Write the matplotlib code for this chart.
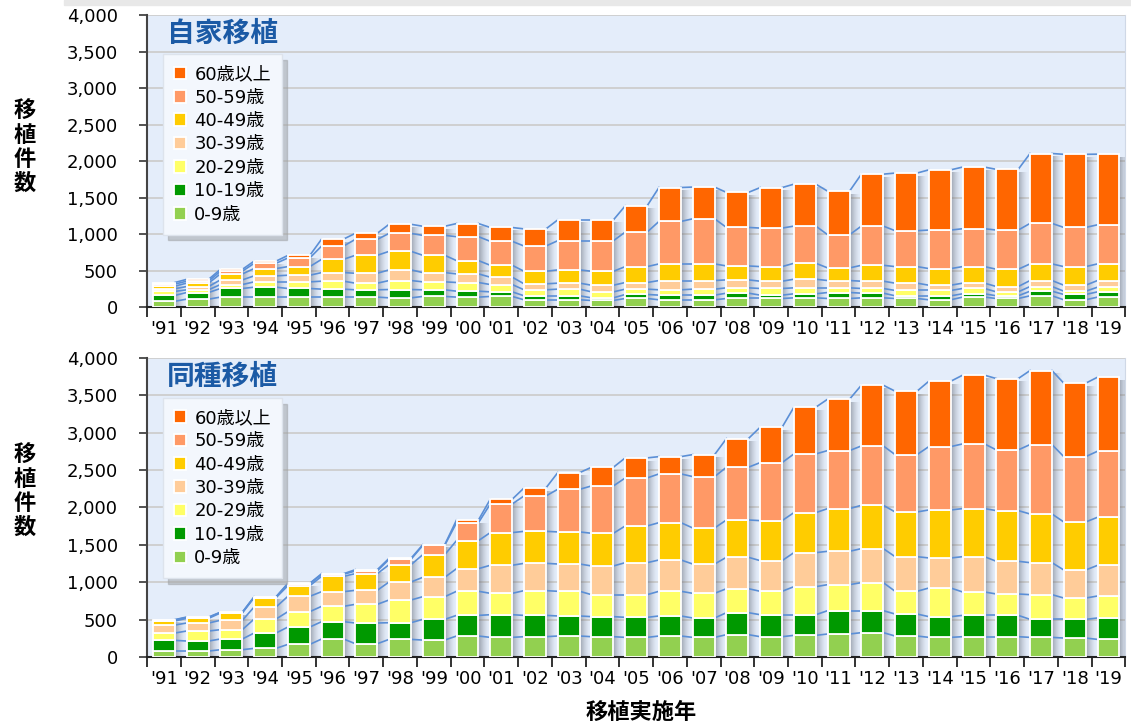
import matplotlib.pyplot as plt
import matplotlib.patches as mpatches
import numpy as np
from matplotlib.ticker import FuncFormatter

plt.rcParams['font.family'] = ['DejaVu Sans', 'Noto Sans CJK JP']

# DATA
years = ["'91", "'92", "'93", "'94", "'95", "'96", "'97", "'98", "'99", "'00",
         "'01", "'02", "'03", "'04", "'05", "'06", "'07", "'08", "'09", "'10",
         "'11", "'12", "'13", "'14", "'15", "'16", "'17", "'18", "'19"]
ages = ['0-9歳', '10-19歳', '20-29歳', '30-39歳', '40-49歳', '50-59歳', '60歳以上']
colors = ['#92d050', '#009900', '#ffff66', '#ffcc99', '#ffcc00', '#ff9966', '#ff6600']

# 自家移植
auto_0_9 = [80, 109, 137, 137, 137, 137, 137, 127, 146, 137, 146, 100, 100, 91, 118,
            100, 100, 118, 118, 127, 118, 127, 118, 100, 137, 118, 155, 100, 137]
auto_10_19 = [80, 91, 118, 136, 118, 109, 100, 114, 91, 81, 63, 55, 55, 36, 55,
              64, 64, 73, 46, 55, 82, 64, 37, 55, 45, 37, 63, 73, 72]
auto_20_29 = [55, 37, 54, 73, 91, 109, 91, 123, 109, 119, 100, 82, 91, 82, 73,
              73, 82, 73, 91, 82, 64, 64, 73, 73, 73, 54, 64, 45, 64]
auto_30_39 = [37, 45, 64, 82, 91, 118, 136, 146, 127, 118, 101, 82, 82, 91, 91,
              127, 118, 109, 100, 118, 100, 100, 100, 72, 73, 73, 82, 82, 91]
auto_40_49 = [36, 46, 82, 100, 118, 182, 246, 254, 237, 182, 163, 172, 182, 191, 218,
              228, 228, 191, 200, 219, 173, 218, 227, 228, 227, 237, 228, 255, 228]
auto_50_59 = [27, 27, 36, 72, 118, 182, 218, 246, 273, 328, 328, 346, 400, 419, 473,
              582, 618, 528, 528, 509, 455, 537, 492, 528, 519, 537, 555, 537, 536]
auto_60 = [22, 25, 26, 30, 35, 95, 83, 125, 125, 180, 190, 235, 285, 285, 360,
           465, 435, 480, 555, 575, 597, 712, 790, 825, 845, 832, 958, 1002, 968]

# 同種移植
allo_0_9 = [80, 80, 98, 116, 169, 241, 178, 236, 227, 281, 263, 272, 281, 272, 263,
            281, 263, 299, 272, 290, 308, 326, 281, 263, 272, 272, 263, 254, 236]
allo_10_19 = [143, 134, 143, 205, 232, 232, 277, 223, 277, 276, 303, 285, 268, 268, 268,
              268, 259, 294, 294, 276, 312, 294, 294, 277, 285, 285, 241, 250, 286]
allo_20_29 = [98, 134, 125, 187, 206, 205, 250, 304, 303, 322, 286, 331, 330, 294, 303,
              330, 330, 321, 313, 375, 348, 375, 304, 383, 313, 286, 330, 285, 294]
allo_30_39 = [107, 107, 125, 161, 205, 196, 187, 241, 259, 303, 375, 365, 365, 384, 428,
              419, 392, 420, 410, 455, 446, 455, 463, 402, 472, 437, 428, 375, 410]
allo_40_49 = [54, 62, 98, 125, 142, 205, 223, 231, 303, 375, 437, 428, 429, 437, 491,
              499, 482, 499, 535, 535, 571, 579, 598, 642, 643, 678, 651, 642, 643]
allo_50_59 = [14, 12, 8, 9, 27, 27, 36, 72, 125, 240, 383, 473, 570, 633, 642,
              652, 687, 705, 776, 785, 776, 794, 767, 847, 865, 812, 928, 874, 883]
allo_60 = [4, 6, 2, 3, 5, 8, 17, 13, 8, 36, 63, 107, 223, 250, 268,
           231, 294, 383, 473, 625, 687, 812, 848, 874, 919, 954, 990, 982, 990]

auto_layers = [auto_0_9, auto_10_19, auto_20_29, auto_30_39, auto_40_49, auto_50_59, auto_60]
allo_layers = [allo_0_9, allo_10_19, allo_20_29, allo_30_39, allo_40_49, allo_50_59, allo_60]


def draw_panel(ax, layers, title):
    x = np.arange(len(years))
    w = 0.65
    total = np.sum(np.array(layers), axis=0)
    ax.set_facecolor('#e4edfa')

    # grey shadow right of each bar (fake 3d depth)
    n = 10
    dw = 0.3 / n
    for k in range(n):
        ax.bar(x + w / 2 + (k + 0.5) * dw, total - 35, width=dw, color='#5f6470',
               alpha=0.5 * (1 - k / n) ** 1.5, lw=0, zorder=2)

    bottom = np.zeros(len(years))
    for vals, lab, c in zip(layers, ages, colors):
        vals = np.array(vals, dtype=float)
        ax.bar(x, vals, w, bottom=bottom, color=c, edgecolor='white', lw=1.3,
               label=lab, zorder=4)
        bottom = bottom + vals
        # blue series lines between bars
        for i in range(len(x) - 1):
            ax.plot([x[i] + w / 2, x[i + 1] - w / 2], [bottom[i], bottom[i + 1]],
                    color='#5b8fd6', lw=1.2, zorder=3)

    ax.set_xlim(-0.5, len(years) - 0.5)
    ax.set_ylim(0, 4000)
    ax.set_yticks(range(0, 4001, 500))
    ax.yaxis.set_major_formatter(FuncFormatter(lambda v, p: '{:,}'.format(int(v))))
    ax.set_xticks(x)
    ax.set_xticklabels(years)
    ax.set_xticks(np.arange(-0.5, len(years)), minor=True)
    ax.tick_params(axis='x', which='major', length=0, pad=9, labelsize=13)
    ax.tick_params(axis='x', which='minor', length=7, width=1.3, color='#222222')
    ax.tick_params(axis='y', length=6, width=1.3, color='#444444', pad=15, labelsize=13)
    ax.yaxis.grid(True, color='#cdcdcd', lw=1.3)
    ax.set_axisbelow(True)
    ax.spines['top'].set_visible(False)
    ax.spines['right'].set_color('#cfd8e6')
    ax.spines['left'].set_color('#444444')
    ax.spines['left'].set_linewidth(1.5)
    ax.spines['bottom'].set_color('#222222')
    ax.spines['bottom'].set_linewidth(1.5)

    ax.text(0.02, 0.937, title, transform=ax.transAxes, fontsize=20,
            fontweight='bold', color='#1b5aa5', va='center', ha='left',
            family='Noto Sans CJK JP')

    h, l = ax.get_legend_handles_labels()
    leg = ax.legend(h[::-1], l[::-1], loc='upper left', bbox_to_anchor=(0.016, 0.866),
                    fontsize=13, frameon=True, fancybox=False,
                    shadow={'ox': 4, 'oy': -4, 'shade': 0.35},
                    handlelength=0.7, handleheight=0.7, handletextpad=0.45,
                    labelspacing=0.3, borderpad=0.6, borderaxespad=0)
    leg.get_frame().set_facecolor('#f3f7fd')
    leg.get_frame().set_edgecolor('#dde3ec')
    leg.get_frame().set_alpha(1)
    leg.set_zorder(10)


fig = plt.figure(figsize=(11.31, 7.26), dpi=100)
ax1 = fig.add_axes([0.130, 0.577, 0.865, 0.402])
ax2 = fig.add_axes([0.130, 0.095, 0.865, 0.412])

draw_panel(ax1, auto_layers, '自家移植')
draw_panel(ax2, allo_layers, '同種移植')

fig.patches.append(mpatches.Rectangle((0.057, 0.993), 0.943, 0.007,
                                      transform=fig.transFigure, color='#e8e8e8'))

fig.text(0.022, 0.797, '移\n植\n件\n数', ha='center', va='center', fontsize=16,
         fontweight='bold', linespacing=1.05, family='Noto Sans CJK JP')
fig.text(0.022, 0.323, '移\n植\n件\n数', ha='center', va='center', fontsize=16,
         fontweight='bold', linespacing=1.05, family='Noto Sans CJK JP')
fig.text(0.567, 0.019, '移植実施年', ha='center', va='center', fontsize=16,
         fontweight='bold', family='Noto Sans CJK JP')

fig.savefig('out.png', dpi=100)
